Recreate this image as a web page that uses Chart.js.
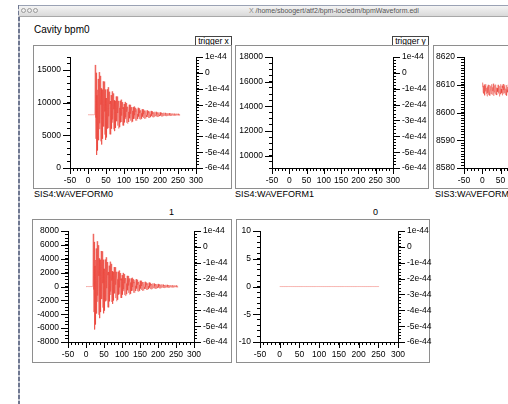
<!DOCTYPE html>
<html>
<head>
<meta charset="utf-8">
<script src="https://cdn.jsdelivr.net/npm/chart.js@4.4.0/dist/chart.umd.min.js"></script>
<style>
  html, body { margin:0; padding:0; background:#fff; }
  #scherm { position:relative; width:508px; height:404px; overflow:hidden; background:#fff; font-family:"Liberation Sans", Arial, Helvetica, sans-serif; }
  #rand { position:absolute; left:18px; top:5px; width:2px; height:399px;
    background:repeating-linear-gradient(#6f7891 0 4px, #c9ccd6 4px 6px); }
  #titelbalk { position:absolute; left:19px; top:5px; width:489px; height:10px; border-top:1px solid #9aa2b4;
    border-bottom:1px solid #a8a8a8; background:linear-gradient(#f4f4f4, #d9d9d9); }
  .rondje { position:absolute; top:2px; width:5px; height:5px; border-radius:50%; border:1px solid #9a9a9a; box-sizing:border-box; background:#eee; }
  #titel { position:absolute; left:230px; top:0px; font-size:7px; line-height:10px; color:#555; white-space:nowrap; }
  .lijst { position:absolute; border:1px solid #8e8e8e; box-sizing:border-box; }
  canvas { position:absolute; }
  .tekst { position:absolute; white-space:nowrap; color:#000; }
  .knop { position:absolute; border:1px solid #444; background:#fff; font-size:8.5px; line-height:9px; text-align:center; box-sizing:border-box; }
</style>
</head>
<body>
<div id="scherm">
  <div id="rand"></div>
  <div id="titelbalk">
    <div class="rondje" style="left:2px"></div>
    <div class="rondje" style="left:8px"></div>
    <div class="rondje" style="left:14px"></div>
    <div id="titel"><span style="color:#888">X</span> /home/sboogert/atf2/bpm-ioc/edm/bpmWaveform.edl</div>
  </div>
  <div class="tekst" style="left:34px;top:24px;font-size:10px;line-height:12px">Cavity bpm0</div>

  <div class="knop" style="left:195px;top:36px;width:37px;height:10px">trigger x</div>
  <div class="knop" style="left:392px;top:36px;width:37px;height:10px">trigger y</div>

  <div class="lijst" style="left:33px;top:45px;width:199px;height:144px"></div>
  <div class="lijst" style="left:235px;top:45px;width:194px;height:144px"></div>
  <div class="lijst" style="left:433px;top:45px;width:207px;height:144px"></div>
  <div class="lijst" style="left:32px;top:219px;width:200px;height:144px"></div>
  <div class="lijst" style="left:236px;top:219px;width:194px;height:144px"></div>

  <canvas id="grafiek1" width="197" height="142" style="left:34px;top:46px"></canvas>
  <canvas id="grafiek2" width="192" height="142" style="left:236px;top:46px"></canvas>
  <canvas id="grafiek3" width="200" height="142" style="left:434px;top:46px"></canvas>
  <canvas id="grafiek4" width="198" height="142" style="left:33px;top:220px"></canvas>
  <canvas id="grafiek5" width="200" height="142" style="left:237px;top:220px"></canvas>

  <div class="tekst" style="left:34px;top:189px;font-size:9px;line-height:11px">SIS4:WAVEFORM0</div>
  <div class="tekst" style="left:235px;top:189px;font-size:9px;line-height:11px">SIS4:WAVEFORM1</div>
  <div class="tekst" style="left:435px;top:189px;font-size:9px;line-height:11px">SIS3:WAVEFORM0</div>
  <div class="tekst" style="left:169px;top:207px;font-size:9px;line-height:11px">1</div>
  <div class="tekst" style="left:373px;top:207px;font-size:9px;line-height:11px">0</div>
</div>

<script>

// SIS4:WAVEFORM0, 256 samples, vlak tot ~20 en dan uitdempende trilling
var waveform0 = [
  8160,8150,8170,8160,8155,8165,8160,8150,8170,8160,8165,8155,8160,8170,8150,8160,8165,8160,8155,8160,
  15800,4472,7721, 14599,1990,11149, 11992,2677,13657, 8823,4257,14701, 5954,6849,14124, 4088,9701,12232,
  3597,12033,9626, 4476,13293,7031, 6354,13254,5120, 8651,12034,4296, 10729,10065,4676, 12065,7907,6032,
  12386,6136,7919, 11694,5161,9800, 10263,5151,11177, 8524,6018,11750, 6949,7440,11433, 5925,9006,10395,
  5655,10286,8965, 6138,10977,7541, 7168,10956,6491, 8430,10286,6039, 9570,9206,6248, 10303,8021,6992,
  10479,7049,8028, 10099,6514,9060, 9314,6508,9816, 8360,6984,10130, 7495,7765,9956, 6934,8624,9386,
  6786,9327,8602, 7050,9707,7820, 7616,9695,7244, 8308,9327,6996, 8934,8734,7110, 9336,8084,7519,
  9433,7550,8087, 9224,7257,8654, 8794,7253,9069, 8270,7514,9242, 7795,7943,9146, 7487,8415,8833,
  7406,8800,8402, 7551,9009,7973, 7861,9002,7658, 8241,8801,7521, 8585,8475,7584, 8806,8118,7808,
  8859,7825,8120, 8745,7664,8431, 8508,7663,8659, 8220,7806,8753, 7960,8041,8701, 7791,8300,8529,
  7746,8512,8293, 7826,8625,8058, 7996,8622,7884, 8205,8512,7809, 8393,8333,7844, 8514,8137,7967,
  8543,7977,8138, 8481,7888,8309, 8351,7887,8434, 8193,7966,8486, 8050,8095,8457, 7957,8237,8363,
  7933,8353,8233, 7977,8415,8104, 8070,8414,8009, 8185,8353,7967, 8288,8255,7986, 8354,8147,8054,
  8370,8059,8148, 8336,8011,8242, 8265,8010,8310, 8178,8053,8339, 8100,8124,8323, 8049,8202,8271,
  8035,8266
];

// SIS3:WAVEFORM0, alleen het zichtbare stuk (ruis rond 8608)
var waveformSis3 = [
  8609.2,8610.8,8607.4,8609.6,8606.9,8610.1,8608.3,8606.2,8609.7,8607.6,
  8610.3,8606.8,8608.9,8605.9,8609.4,8607.1,8610.0,8606.4,8608.6,8607.0,
  8609.9,8606.1,8608.2,8609.5,8606.7,8608.0,8610.2,8606.5,8609.1,8607.7,
  8610.4,8606.0,8608.7,8607.3,8609.8,8606.6,8608.4,8610.1,8607.2,8609.0,
  8606.3,8608.8,8607.5,8610.0,8606.9,8609.3,8607.9,8605.8,8609.6,8607.4,
  8610.2,8606.6,8608.5,8607.1,8609.7,8606.2,8608.9,8610.3,8606.8,8608.1,
  8609.4,8607.0,8610.0,8606.4,8608.6,8607.8,8609.9,8606.1,8608.3,8609.2,
  8607.3,8610.1,8606.7,8608.0,8609.5,8606.9,8608.7,8607.6,8610.4,8606.5
];

// grafiek "1": zelfde golf zonder offset
var golf1 = [
  0,10,-10,0,-5,5,0,-10,10,0,5,-5,0,10,-10,0,5,0,-5,0,
  7600,-3688,-439, 6439,-6200,2989, 3832,-5483,5497, 663,-3903,6541, -2206,-1311,5964, -4072,1541,4072,
  -4563,3873,1466, -3684,5133,-1129, -1806,5094,-3040, 491,3874,-3864, 2569,1905,-3484, 3905,-253,-2128,
  4226,-2024,-241, 3534,-2999,1640, 2103,-3009,3017, 364,-2142,3590, -1211,-720,3273, -2235,846,2235,
  -2505,2126,805, -2022,2817,-619, -992,2796,-1669, 270,2126,-2121, 1410,1046,-1912, 2143,-139,-1168,
  2319,-1111,-132, 1939,-1646,900, 1154,-1652,1656, 200,-1176,1970, -665,-395,1796, -1226,464,1226,
  -1374,1167,442, -1110,1547,-340, -544,1535,-916, 148,1167,-1164, 774,574,-1050, 1176,-76,-641,
  1273,-610,-73, 1064,-903,494, 634,-907,909, 110,-646,1082, -365,-217,986, -673,255,673,
  -754,640,242, -609,849,-187, -299,842,-502, 81,641,-639, 425,315,-576, 646,-42,-352,
  699,-335,-40, 585,-496,271, 348,-497,499, 60,-354,593, -200,-119,541, -369,140,369,
  -414,352,133, -334,465,-102, -164,462,-276, 45,352,-351, 233,173,-316, 354,-23,-193,
  383,-183,-22, 321,-272,149, 191,-273,274, 33,-194,326, -110,-65,297, -203,77,203,
  -227,193,73, -183,255,-56, -90,254,-151, 25,193,-193, 128,95,-174, 194,-13,-106,
  210,-101,-12, 176,-149,82, 105,-150,150, 18,-107,179, -60,-36,163, -111,42,111,
  -125,106
];

// grafiek "0": vlakke lijn op 0
var golf0 = [
  0,0,0,0,0,0,0,0,0,0,0,0,0,0,0,0,0,0,0,0,0,0,0,0,0,0,0,0,0,0,0,0,
  0,0,0,0,0,0,0,0,0,0,0,0,0,0,0,0,0,0,0,0,0,0,0,0,0,0,0,0,0,0,0,0,
  0,0,0,0,0,0,0,0,0,0,0,0,0,0,0,0,0,0,0,0,0,0,0,0,0,0,0,0,0,0,0,0,
  0,0,0,0,0,0,0,0,0,0,0,0,0,0,0,0,0,0,0,0,0,0,0,0,0,0,0,0,0,0,0,0,
  0,0,0,0,0,0,0,0,0,0,0,0,0,0,0,0,0,0,0,0,0,0,0,0,0,0,0,0,0,0,0,0,
  0,0,0,0,0,0,0,0,0,0,0,0,0,0,0,0,0,0,0,0,0,0,0,0,0,0,0,0,0,0,0,0,
  0,0,0,0,0,0,0,0,0,0,0,0,0,0,0,0,0,0,0,0,0,0,0,0,0,0,0,0,0,0,0,0,
  0,0,0,0,0,0,0,0,0,0,0,0,0,0,0,0,0,0,0,0,0,0,0,0,0,0,0,0,0,0,0
];

// labels van de rechter as (eenheid 1e-44)
var rechtsLabels = ['1e-44','0','-1e-44','-2e-44','-3e-44','-4e-44','-5e-44','-6e-44'];
var xBereik = [-50, 300];

// ---------------- OPMAAK ----------------
var lijnKleur = 'rgba(232,40,30,0.5)';
var letter = { family: '"Liberation Sans", Arial, Helvetica, sans-serif', size: 8.5 };

// langere streepjes bij de hoofdwaarden (Chart.js kent maar 1 lengte)
var hoofdStappen = {};
var langeStreepjes = {
  id: 'langeStreepjes',
  afterDraw: function(chart) {
    var ctx = chart.ctx;
    var stappen = hoofdStappen[chart.canvas.id];
    ctx.save();
    ctx.strokeStyle = '#000';
    ctx.lineWidth = 1;
    Object.keys(chart.scales).forEach(function(id) {
      var s = chart.scales[id];
      var stap = stappen[id];
      s.ticks.forEach(function(t) {
        var r = t.value / stap;
        if (Math.abs(r - Math.round(r)) > 1e-6) return;
        var p = Math.round(s.getPixelForValue(t.value)) + 0.5;
        ctx.beginPath();
        if (s.position === 'bottom') { ctx.moveTo(p, s.top); ctx.lineTo(p, s.top + 6); }
        else if (s.position === 'left') { ctx.moveTo(s.right, p); ctx.lineTo(s.right - 7, p); }
        else { ctx.moveTo(s.left, p); ctx.lineTo(s.left + 7, p); }
        ctx.stroke();
      });
    });
    ctx.restore();
  }
};

function isHoofd(v, stap) {
  var r = v / stap;
  return Math.abs(r - Math.round(r)) < 1e-6;
}

function asOpties(extra) {
  var basis = {
    grid: { display: true, drawOnChartArea: false, drawTicks: true, tickLength: 3, tickColor: '#000' },
    border: { display: true, color: '#000', width: 1 },
    ticks: { autoSkip: false, maxRotation: 0, color: '#000', font: letter, padding: 5 }
  };
  return Object.assign(basis, extra);
}

function maakGrafiek(canvasId, reeks, y, maten) {
  hoofdStappen[canvasId] = { x: 50, y: y.hoofd, y2: 1 };
  var punten = reeks.map(function(v, i) { return { x: i, y: v }; });
  var opties = {
    responsive: false,
    animation: false,
    events: [],
    layout: { padding: { top: maten.boven, left: 0, right: 0, bottom: 0 } },
    plugins: { legend: { display: false }, tooltip: { enabled: false } },
    scales: {
      x: asOpties({
        type: 'linear', position: 'bottom', min: xBereik[0], max: xBereik[1],
        afterFit: function(s) { s.height = 20; }
      }),
      y: asOpties({
        type: 'linear', position: 'left', min: y.min, max: y.max,
        afterFit: function(s) { s.width = maten.links; }
      }),
      y2: asOpties({
        type: 'linear', position: 'right', min: -6, max: 1,
        afterFit: function(s) { s.width = maten.rechts; }
      })
    }
  };
  opties.scales.x.ticks = Object.assign({}, opties.scales.x.ticks, {
    stepSize: 10, padding: 5,
    callback: function(v) { return isHoofd(v, 50) ? String(v) : ''; }
  });
  opties.scales.y.ticks = Object.assign({}, opties.scales.y.ticks, {
    stepSize: y.stap, padding: 6,
    callback: function(v) { return isHoofd(v, y.hoofd) ? String(v) : ''; }
  });
  opties.scales.y2.ticks = Object.assign({}, opties.scales.y2.ticks, {
    stepSize: 0.2, padding: 6,
    callback: function(v) { return isHoofd(v, 1) ? rechtsLabels[1 - Math.round(v)] : ''; }
  });

  var data = { datasets: [] };
  if (reeks.length) {
    data.datasets.push({
      data: punten, xAxisID: 'x', yAxisID: 'y',
      borderColor: lijnKleur, borderWidth: 0.7, pointRadius: 0, tension: 0, fill: false
    });
  }
  var ctx = document.getElementById(canvasId).getContext('2d');
  return new Chart(ctx, { type: 'line', data: data, options: opties, plugins: [langeStreepjes] });
}

// SIS4:WAVEFORM0
maakGrafiek('grafiek1', waveform0, { min: 0, max: 17000, stap: 1000, hoofd: 5000 }, { links: 36, rechts: 35, boven: 7 });
// SIS4:WAVEFORM1 (leeg)
maakGrafiek('grafiek2', [], { min: 9000, max: 18000, stap: 500, hoofd: 2000 }, { links: 36, rechts: 35, boven: 7 });
// SIS3:WAVEFORM0
maakGrafiek('grafiek3', waveformSis3, { min: 8580, max: 8620, stap: 1, hoofd: 10 }, { links: 30, rechts: 42, boven: 7 });
// grafiek "1"
maakGrafiek('grafiek4', golf1, { min: -8000, max: 8000, stap: 500, hoofd: 2000 }, { links: 35, rechts: 37, boven: 6 });
// grafiek "0"
maakGrafiek('grafiek5', golf0, { min: -10, max: 10, stap: 1, hoofd: 5 }, { links: 23, rechts: 39, boven: 6 });
</script>
</body>
</html>
